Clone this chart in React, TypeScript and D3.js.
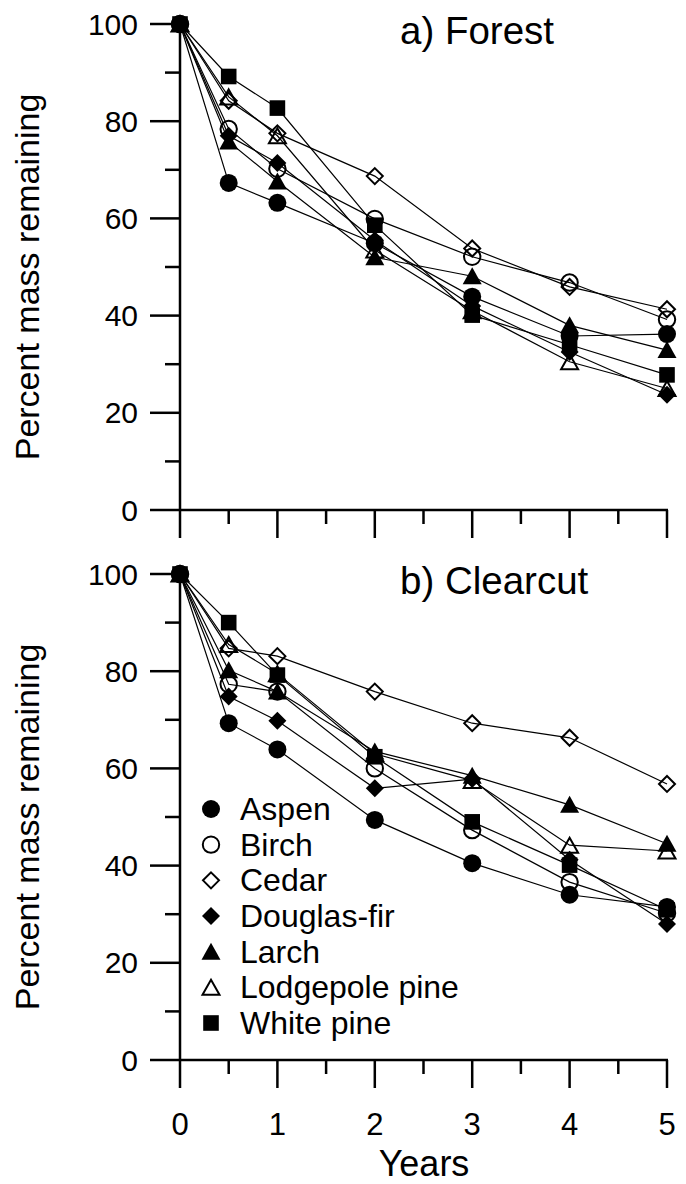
import React from "react";
import * as d3 from "d3";

const years = [0, 0.5, 1, 2, 3, 4, 5];
const species = ["Aspen", "Birch", "Cedar", "Douglas-fir", "Larch", "Lodgepole pine", "White pine"];

const forestAspen = [100, 67.3, 63.2, 54.9, 43.9, 35.8, 36.2];
const forestBirch = [100, 78.4, 70.2, 59.9, 52.1, 46.8, 39.2];
const forestCedar = [100, 84.2, 77.5, 68.7, 53.8, 45.9, 41.3];
const forestDouglas = [100, 77, 71.4, 55.5, 42, 32.5, 23.7];
const forestLarch = [100, 75.8, 67.6, 52, 48.1, 38, 32.9];
const forestLodgepole = [100, 85, 77, 53.5, 41, 30.5, 25];
const forestWhitePine = [100, 89.2, 82.7, 58.6, 40.1, 34, 27.8];

const clearAspen = [100, 69.3, 63.9, 49.4, 40.5, 34, 31.5];
const clearBirch = [100, 77.3, 75.8, 60, 47.3, 36.6, 30.2];
const clearCedar = [100, 84.7, 83.1, 75.8, 69.3, 66.3, 56.8];
const clearDouglas = [100, 74.8, 69.8, 55.9, 57.8, 41.2, 28];
const clearLarch = [100, 80.2, 75.8, 63.5, 58.5, 52.5, 44.5];
const clearLodgepole = [100, 85.5, 79.5, 63, 57.5, 44.2, 43];
const clearWhitePine = [100, 90, 79.2, 62.4, 49, 40.1, 30.9];

const yMajorTicks = [0, 20, 40, 60, 80, 100];
const yMinorTicks = [10, 30, 50, 70, 90];
const xMajorTicks = [0, 1, 2, 3, 4, 5];
const xMinorTicks = [0.5, 1.5, 2.5, 3.5, 4.5];

const forestSeries = [forestAspen, forestBirch, forestCedar, forestDouglas, forestLarch, forestLodgepole, forestWhitePine];
const clearSeries = [clearAspen, clearBirch, clearCedar, clearDouglas, clearLarch, clearLodgepole, clearWhitePine];

const FONT = "'Liberation Sans', Arial, Helvetica, sans-serif";

function Marker({ kind, x, y }: { kind: number; x: number; y: number }) {
  const sw = 2;
  switch (kind) {
    case 0:
      return <circle cx={x} cy={y} r={9} fill="#000" />;
    case 1:
      return <circle cx={x} cy={y} r={8.2} fill="none" stroke="#000" strokeWidth={sw} />;
    case 2: {
      const s = 8;
      return <path d={`M${x},${y - s}L${x + s},${y}L${x},${y + s}L${x - s},${y}Z`} fill="none" stroke="#000" strokeWidth={sw} />;
    }
    case 3: {
      const s = 9;
      return <path d={`M${x},${y - s}L${x + s},${y}L${x},${y + s}L${x - s},${y}Z`} fill="#000" />;
    }
    case 4: {
      const w = 9.5, h = 8;
      return <path d={`M${x},${y - h - 1}L${x + w},${y + h}L${x - w},${y + h}Z`} fill="#000" />;
    }
    case 5: {
      const w = 8.5, h = 7.5;
      return <path d={`M${x},${y - h}L${x + w},${y + h}L${x - w},${y + h}Z`} fill="none" stroke="#000" strokeWidth={sw} strokeLinejoin="miter" />;
    }
    default: {
      const s = 7.8;
      return <rect x={x - s} y={y - s} width={2 * s} height={2 * s} fill="#000" />;
    }
  }
}

function Panel({ top, bottom, series, title, showXLabels }: { top: number; bottom: number; series: number[][]; title: string; showXLabels: boolean }) {
  const x = d3.scaleLinear().domain([0, 5]).range([180, 667]);
  const y = d3.scaleLinear().domain([0, 100]).range([bottom, top]);
  const line = d3
    .line<number>()
    .x((_, i) => x(years[i]))
    .y((v) => y(v));
  const axisW = 2.5;
  return (
    <g>
      <line x1={x(0)} x2={x(0)} y1={y(100)} y2={y(0)} stroke="#000" strokeWidth={axisW} />
      {yMajorTicks.map((t) => (
        <g key={"ym" + t}>
          <line x1={x(0) - 30} x2={x(0)} y1={y(t)} y2={y(t)} stroke="#000" strokeWidth={axisW} />
          <text x={x(0) - 42} y={y(t) + 10.5} textAnchor="end" fontSize={30} fontFamily={FONT}>
            {t}
          </text>
        </g>
      ))}
      {yMinorTicks.map((t) => (
        <line key={"yn" + t} x1={x(0) - 15} x2={x(0)} y1={y(t)} y2={y(t)} stroke="#000" strokeWidth={axisW} />
      ))}
      <line x1={x(0)} x2={x(5) + 1} y1={y(0)} y2={y(0)} stroke="#000" strokeWidth={axisW} />
      {xMajorTicks.map((t) => (
        <g key={"xm" + t}>
          <line x1={x(t)} x2={x(t)} y1={y(0)} y2={y(0) + 28} stroke="#000" strokeWidth={axisW} />
          {showXLabels && (
            <text x={x(t)} y={y(0) + 75} textAnchor="middle" fontSize={31} fontFamily={FONT}>
              {t}
            </text>
          )}
        </g>
      ))}
      {xMinorTicks.map((t) => (
        <line key={"xn" + t} x1={x(t)} x2={x(t)} y1={y(0)} y2={y(0) + 14} stroke="#000" strokeWidth={axisW} />
      ))}
      <text
        transform={`translate(39,${(top + bottom) / 2 + 10}) rotate(-90)`}
        textAnchor="middle"
        fontSize={34}
        fontFamily={FONT}
      >
        Percent mass remaining
      </text>
      <text x={400} y={top + 20} fontSize={38.5} fontFamily={FONT}>
        {title}
      </text>
      {series.map((s, i) => (
        <path key={"l" + i} d={line(s) || ""} fill="none" stroke="#000" strokeWidth={1.2} />
      ))}
      {series.map((s, i) => (
        <g key={"m" + i}>
          {s.map((v, j) => (
            <Marker key={j} kind={i} x={x(years[j])} y={y(v)} />
          ))}
        </g>
      ))}
    </g>
  );
}

export default function App() {
  const legendY = d3.scaleLinear().domain([0, 6]).range([809, 1023]);
  return (
    <svg width={686} height={1184} style={{ position: "absolute", left: 0, top: 0, background: "#fff" }}>
      <rect width={686} height={1184} fill="#fff" />
      <Panel top={24} bottom={510} series={forestSeries} title="a) Forest" showXLabels={false} />
      <Panel top={574} bottom={1060} series={clearSeries} title="b) Clearcut" showXLabels={true} />
      {species.map((name, i) => (
        <g key={name}>
          <Marker kind={i} x={211} y={legendY(i)} />
          <text x={240} y={legendY(i) + 11} fontSize={32} fontFamily={FONT}>
            {name}
          </text>
        </g>
      ))}
      <text x={424} y={1176} textAnchor="middle" fontSize={36} fontFamily={FONT}>
        Years
      </text>
    </svg>
  );
}
